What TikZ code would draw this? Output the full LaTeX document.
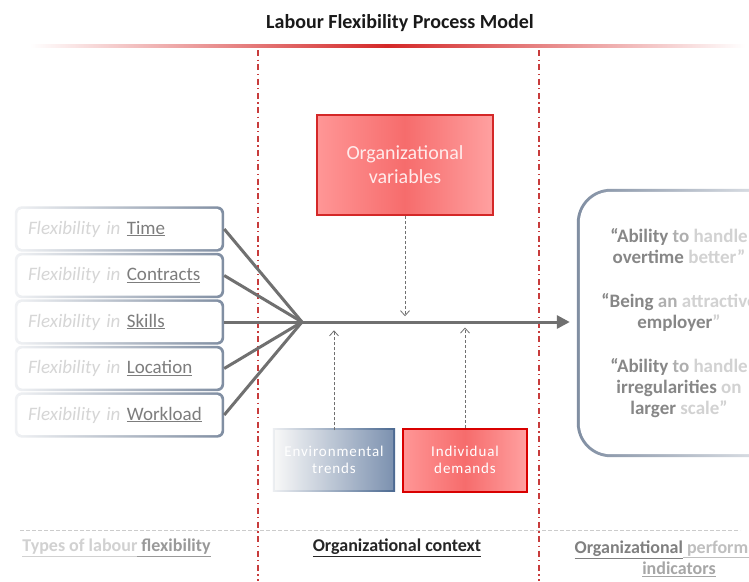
\documentclass[tikz,border=0pt]{standalone}
\usepackage{fontspec}
\setmainfont{Carlito}
\usetikzlibrary{arrows.meta,backgrounds}
\newcommand\setfs[2]{\fontsize{#1}{#2}\selectfont}
\definecolor{gb}{RGB}{128,142,162}
\definecolor{txtdark}{RGB}{125,125,125}
\definecolor{txtlight}{RGB}{214,214,214}
\definecolor{lineg}{RGB}{112,112,112}
\definecolor{reddash}{RGB}{200,60,60}
\definecolor{ovl}{RGB}{255,150,150}
\definecolor{ovm}{RGB}{246,108,108}
\definecolor{ovb}{RGB}{212,40,40}
\definecolor{envdark}{RGB}{75,105,145}
\definecolor{envmid}{RGB}{125,146,176}
\definecolor{qa}{RGB}{135,135,135}
\definecolor{qb}{RGB}{175,175,175}
\definecolor{qc}{RGB}{210,210,210}
\begin{document}
\begin{tikzpicture}[x=1pt,y=1pt,
  flexbox/.style={minimum width=209pt, minimum height=45pt, text width=183pt,
    inner xsep=13pt, inner ysep=0pt, align=left, font=\setfs{19}{23}},
  connector/.style={draw=lineg, line width=3pt},
  dasharrow/.style={draw=lineg, line width=0.8pt, dash pattern=on 3pt off 2pt,
    -{Straight Barb[length=5pt,width=9pt]}},
  sepline/.style={draw=reddash, line width=1.4pt, dash pattern=on 6pt off 3.5pt on 1.3pt off 3.5pt},
  redbox/.style={draw=ovb, line width=2.5pt, left color=ovl, right color=ovl!90, middle color=ovm,
    text=white, align=center},
  quote/.style={align=center, font=\bfseries\setfs{19}{21}},
  foot/.style={align=center, font=\bfseries\setfs{18}{21}}]
\useasboundingbox (0,0) rectangle (749,-581);
% title
\node[font=\bfseries\setfs{20}{24}, text=black!90] (title) at (400,-23) {Labour Flexibility Process Model};
% red separator line on top
\shade[left color=white, right color=white, middle color=ovb] (30,-44.8) rectangle (745,-47.2);
% vertical dash-dot separators
\draw[sepline] (258,-50) -- (258,-581);
\draw[sepline] (539,-50) -- (539,-581);
% horizontal dashed line
\draw[draw=black!20, line width=0.9pt, dash pattern=on 4pt off 2pt] (20,-530) -- (740,-530);
% left boxes
\node[flexbox] (t) at (119.5,-229) {{\color{txtlight}\itshape Flexibility in} \textcolor{txtdark}{\underline{Time}}};
\node[flexbox] (c) at (119.5,-275.5) {{\color{txtlight}\itshape Flexibility in} \textcolor{txtdark}{\underline{Contracts}}};
\node[flexbox] (s) at (119.5,-322) {{\color{txtlight}\itshape Flexibility in} \textcolor{txtdark}{\underline{Skills}}};
\node[flexbox] (l) at (119.5,-368.5) {{\color{txtlight}\itshape Flexibility in} \textcolor{txtdark}{\underline{Location}}};
\node[flexbox] (w) at (119.5,-415) {{\color{txtlight}\itshape Flexibility in} \textcolor{txtdark}{\underline{Workload}}};
\begin{scope}[on background layer]
  \fill[white] (0,0) rectangle (749,-581);
  \foreach \n in {t,c,s,l,w}{
    \shade[rounded corners=7pt, left color=gb!12, right color=gb] (\n.north west) rectangle (\n.south east);
    \fill[white, rounded corners=5pt] ([shift={(2.5,-2.5)}]\n.north west) rectangle ([shift={(-2.5,2.5)}]\n.south east);
  }
\end{scope}
% convergence
\coordinate (conv) at (302,-322);
\foreach \n in {t,c,s,l,w}{\draw[connector] (\n.east) -- (conv);}
% right box
\node[minimum width=253pt, minimum height=268pt] (rb) at (703.5,-323) {};
\begin{scope}[on background layer]
  \shade[rounded corners=34pt, left color=gb, middle color=gb!55, right color=white] (rb.north west) rectangle (rb.south east);
  \fill[white, rounded corners=31pt] ([shift={(3,-3)}]rb.north west) rectangle ([shift={(-3,3)}]rb.south east);
\end{scope}
\draw[connector, -{Triangle[length=13pt,width=13pt]}] (conv) -- ([xshift=-7pt]rb.west |- conv);
% quotes
\node[quote] (q1) at (679,-246.5) {{\color{qa}“Ability} {\color{qb}to} {\color{qc}handle}\\{\color{qa}overtime} {\color{qc}better”}};
\node[quote] (q2) at (679,-312.5) {{\color{qa}“Being} {\color{qb}an} {\color{qc}attractive}\\{\color{qa}employer}{\color{qc}”}};
\node[quote] (q3) at (679,-388) {{\color{qa}“Ability} {\color{qb}to} {\color{qc}handle}\\{\color{qa}irregularities} {\color{qc}on}\\{\color{qa}larger} {\color{qc}scale”}};
% organizational variables
\node[redbox, minimum width=176pt, minimum height=100pt, font=\setfs{20}{24}, text=red!8] (ov) at (405,-165) {Organizational\\variables};
\draw[dasharrow] (ov.south) -- ++(0,-100);
% environmental trends
\node[minimum width=118pt, minimum height=59pt, left color=black!3, right color=envmid, text=white, align=center,
  font=\addfontfeature{LetterSpace=6}\setfs{15}{17}] (env) at (334,-460) {Environmental\\trends};
\begin{scope}[on background layer]
  \shade[left color=gb!15, right color=envdark] ([shift={(-2,2)}]env.north west) rectangle ([shift={(2,-2)}]env.south east);
\end{scope}
\draw[dasharrow] (env.north) -- ++(0,100);
% individual demands
\node[redbox, draw=red!85!black, line width=2pt, minimum width=124pt, minimum height=63pt,
  font=\addfontfeature{LetterSpace=6}\setfs{15}{17}] (ind) at (465,-460) {Individual\\demands};
\draw[dasharrow] (ind.north) -- ++(0,100);
% footer labels
\node[foot] (f1) at (116.5,-548) {\textcolor{black!18}{\underline{Types of labour}}\textcolor{black!40}{\underline{\ flexibility}}};
\node[foot, text=black!85] (f2) at (397,-548) {\underline{Organizational context}};
\node[foot] (f3) at (679,-558.5) {\textcolor{black!50}{\underline{Organizational}}\textcolor{black!25}{\underline{\ performance}}\\\textcolor{black!35}{\underline{indicators}}};
\end{tikzpicture}
\end{document}
